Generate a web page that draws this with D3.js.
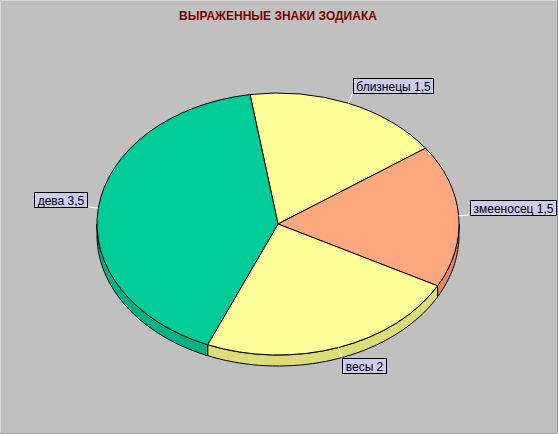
<!DOCTYPE html>
<html>
<head>
<meta charset="utf-8">
<script src="https://cdn.jsdelivr.net/npm/d3@7"></script>
<style>
  body { margin: 0; background: #c0c0c0; }
  svg { display: block; }
</style>
</head>
<body>
<div id="chart"></div>
<script>
// data
var signs  = ["близнецы", "змееносец", "весы", "дева"];
var counts = [1.5, 1.5, 2, 3.5];
var labels = ["близнецы 1,5", "змееносец 1,5", "весы 2", "дева 3,5"];
var topColors  = ["#ffff99", "#ffa87f", "#ffff99", "#00cc99"];
var sideColors = ["#dddd77", "#e08a62", "#dddd77", "#00b385"];
var title = "ВЫРАЖЕННЫЕ ЗНАКИ ЗОДИАКА";

var W = 558, H = 434;
var cx = 278, cy = 224, rx = 181, ry = 131, depth = 11;

var svg = d3.select("#chart").append("svg")
    .attr("width", W)
    .attr("height", H);

svg.append("rect")
    .attr("width", W).attr("height", H)
    .attr("fill", "#c0c0c0");

// frame: light on left/top, dark on right/bottom
svg.append("path")
    .attr("d", "M0.5," + (H - 1) + "V0.5H" + (W - 1))
    .attr("fill", "none").attr("stroke", "#d8d8d8");
svg.append("path")
    .attr("d", "M0," + (H - 0.5) + "H" + (W - 0.5) + "V0")
    .attr("fill", "none").attr("stroke", "#9c9ca4");

svg.append("text")
    .attr("x", cx).attr("y", 20)
    .attr("text-anchor", "middle")
    .style("font-family", "'Liberation Sans', Arial, sans-serif")
    .style("font-weight", "bold")
    .style("font-size", "12px")
    .attr("fill", "#800000")
    .text(title);

var pie = d3.pie()
    .sort(null)
    .value(function(d) { return d; })
    .startAngle(-8.9 * Math.PI / 180)
    .endAngle(-8.9 * Math.PI / 180 + 2 * Math.PI);

var arcs = pie(counts);

// point on the ellipse, angle 0 at 12 o'clock, clockwise
function ell(a, dy) {
    return [cx + rx * Math.sin(a), cy - ry * Math.cos(a) + (dy || 0)];
}

// side walls (front half only)
var front0 = Math.PI / 2, front1 = 3 * Math.PI / 2;
var g_side = svg.append("g");
arcs.forEach(function(d, i) {
    var a0 = d.startAngle, a1 = d.endAngle;
    var off = 0;
    if (a1 <= 0) off = 2 * Math.PI;
    a0 += off; a1 += off;
    var s = Math.max(a0, front0), e = Math.min(a1, front1);
    if (e <= s) return;
    var n = 40, top = [], bot = [];
    for (var k = 0; k <= n; k++) {
        var a = s + (e - s) * k / n;
        top.push(ell(a));
        bot.push(ell(a, depth));
    }
    var pts = top.concat(bot.reverse());
    g_side.append("path")
        .attr("d", d3.line()(pts) + "Z")
        .attr("fill", sideColors[i])
        .attr("stroke", "#000")
        .attr("stroke-width", 1)
        .attr("stroke-linejoin", "round");
});

// top faces: circular arcs squashed to an ellipse
var arc = d3.arc().innerRadius(0).outerRadius(rx);
svg.append("g")
    .attr("transform", "translate(" + cx + "," + cy + ") scale(1," + (ry / rx) + ")")
  .selectAll("path")
  .data(arcs)
  .join("path")
    .attr("d", arc)
    .attr("fill", function(d, i) { return topColors[i]; })
    .attr("stroke", "#000")
    .attr("stroke-width", 1)
    .attr("vector-effect", "non-scaling-stroke");

// data labels with leader lines
var gap = 11;
var g_lab = svg.append("g")
    .style("font-family", "'Liberation Sans', Arial, sans-serif")
    .style("font-size", "12px");

arcs.forEach(function(d, i) {
    var m = (d.startAngle + d.endAngle) / 2;
    var sn = Math.sin(m), cs = Math.cos(m);
    var p0 = [cx + rx * sn, cy - ry * cs];
    var p1 = [cx + (rx + gap) * sn, cy - (ry + gap) * cs];
    g_lab.append("line")
        .attr("x1", p0[0]).attr("y1", p0[1])
        .attr("x2", p1[0]).attr("y2", p1[1])
        .attr("stroke", "#fff")
        .attr("stroke-width", 1);

    var t = g_lab.append("text").text(labels[i]).attr("fill", "#000");
    var tw = t.node().getComputedTextLength();
    var bw = Math.round(tw + 6), bh = 15;
    var bx = sn >= 0 ? p1[0] : p1[0] - bw;
    var by = cs < -0.3 ? p1[1] : p1[1] - bh;
    bx = Math.round(bx) + 0.5; by = Math.round(by) + 0.5;
    g_lab.insert("rect", "text:last-child")
        .attr("x", bx).attr("y", by)
        .attr("width", bw).attr("height", bh)
        .attr("fill", "#ccccec")
        .attr("stroke", "#000")
        .attr("stroke-width", 1);
    t.attr("x", bx + bw / 2).attr("y", by + 12)
        .attr("text-anchor", "middle");
});
</script>
</body>
</html>
